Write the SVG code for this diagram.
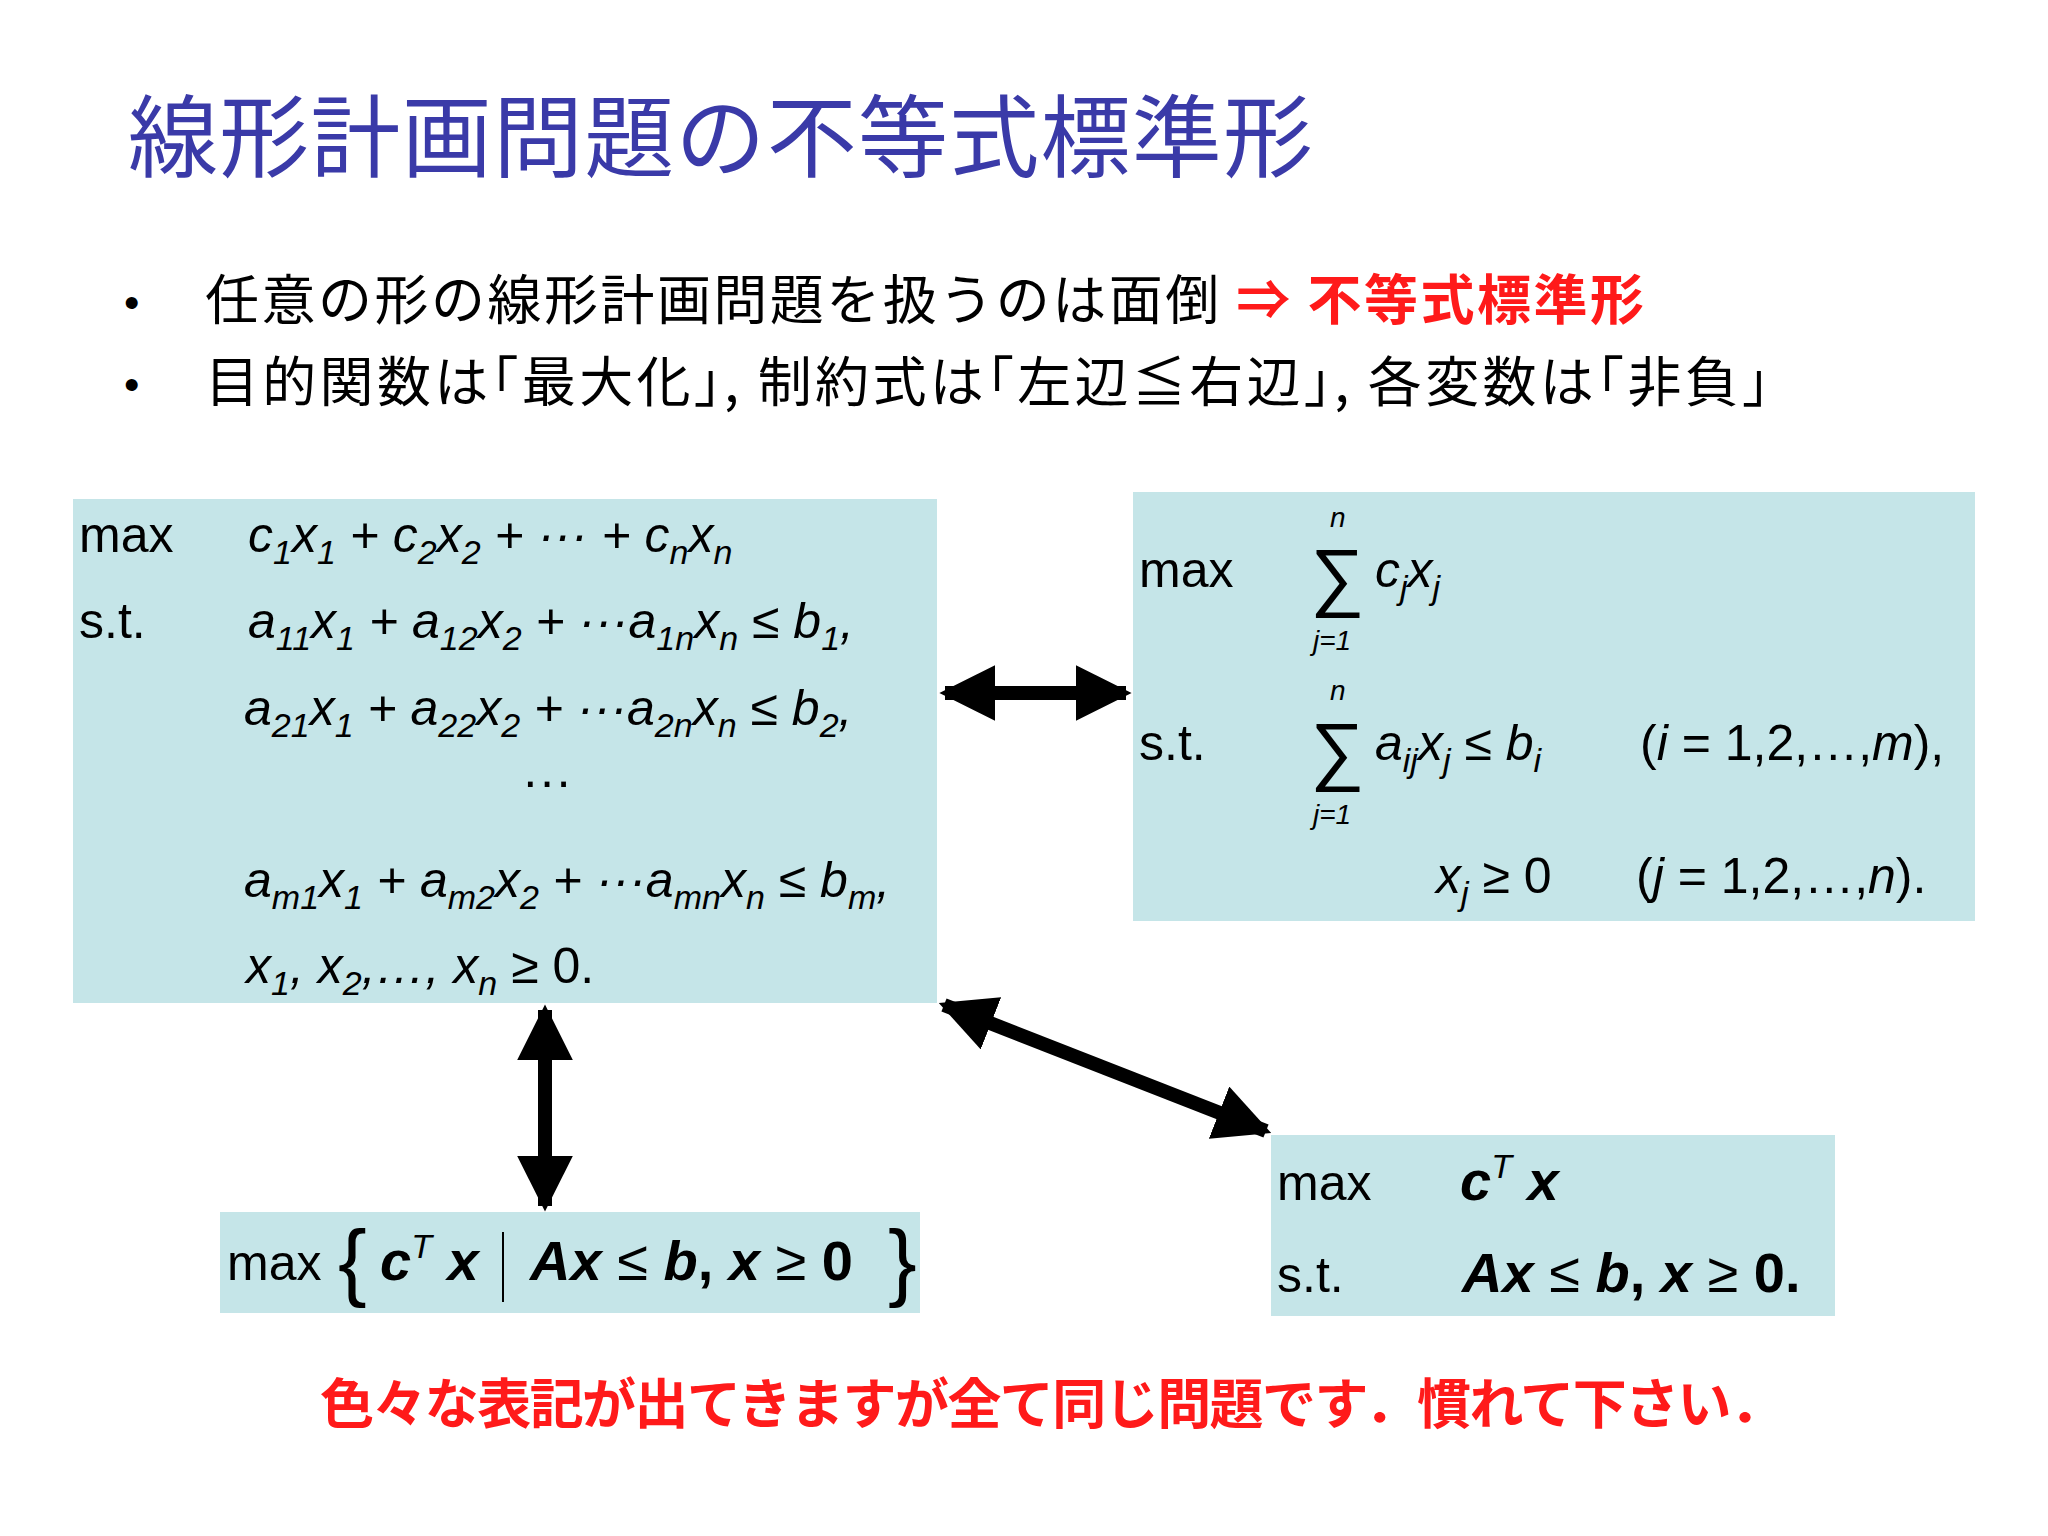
<svg xmlns="http://www.w3.org/2000/svg" width="2048" height="1536" viewBox="0 0 2048 1536">
<style>
text{font-family:"Liberation Sans","Noto Sans CJK JP",sans-serif;fill:#000}
.jp{font-family:"Noto Sans CJK JP",sans-serif}
.m{font-size:50px}
.i{font-style:italic}
.b{font-weight:bold}
.sub{font-size:34px;baseline-shift:-12px}
.sup{font-size:34px;baseline-shift:22px}
.box{fill:#c5e5e8}
.con{stroke:#000;stroke-width:14;fill:none}
</style>
<defs>
<marker id="ah" viewBox="0 0 10 10" refX="9" refY="5" markerWidth="4" markerHeight="4" orient="auto-start-reverse" markerUnits="strokeWidth">
<path d="M0,0 L10,5 L0,10 Z" fill="#000"/>
</marker>
</defs>
<rect width="2048" height="1536" fill="#fff"/>
<text class="jp" x="128" y="170" font-size="90" textLength="1185" style="fill:#3a3aa8">線形計画問題の不等式標準形</text>
<text x="124" y="318" font-size="44">•</text>
<text x="124" y="400" font-size="44">•</text>
<text class="jp" x="205" y="320" font-size="54" textLength="1439">任意の形の線形計画問題を扱うのは面倒 <tspan class="b" style="fill:#ff1a1a">⇒ 不等式標準形</tspan></text>
<text class="jp" x="205" y="402" font-size="54" textLength="1564">目的関数は｢最大化｣, 制約式は｢左辺≦右辺｣, 各変数は｢非負｣</text>

<g id="n1">
<rect class="box" x="73" y="499" width="864" height="504"/>
<text class="m" x="79" y="552">max</text>
<text class="m" x="79" y="638">s.t.</text>
<text class="m i" x="248" y="552">c<tspan class="sub">1</tspan>x<tspan class="sub">1</tspan> + c<tspan class="sub">2</tspan>x<tspan class="sub">2</tspan> + ··· + c<tspan class="sub">n</tspan>x<tspan class="sub">n</tspan></text>
<text class="m i" x="248" y="638">a<tspan class="sub">11</tspan>x<tspan class="sub">1</tspan> + a<tspan class="sub">12</tspan>x<tspan class="sub">2</tspan> + ···a<tspan class="sub">1n</tspan>x<tspan class="sub">n</tspan> ≤ b<tspan class="sub">1</tspan>,</text>
<text class="m i" x="244" y="725">a<tspan class="sub">21</tspan>x<tspan class="sub">1</tspan> + a<tspan class="sub">22</tspan>x<tspan class="sub">2</tspan> + ···a<tspan class="sub">2n</tspan>x<tspan class="sub">n</tspan> ≤ b<tspan class="sub">2</tspan>,</text>
<text class="m" x="522" y="798">···</text>
<text class="m i" x="244" y="897">a<tspan class="sub">m1</tspan>x<tspan class="sub">1</tspan> + a<tspan class="sub">m2</tspan>x<tspan class="sub">2</tspan> + ···a<tspan class="sub">mn</tspan>x<tspan class="sub">n</tspan> ≤ b<tspan class="sub">m</tspan>,</text>
<text class="m i" x="246" y="983">x<tspan class="sub">1</tspan>, x<tspan class="sub">2</tspan>,…, x<tspan class="sub">n</tspan> <tspan style="font-style:normal">≥ 0.</tspan></text>
</g>

<g id="n2">
<rect class="box" x="1133" y="492" width="842" height="429"/>
<text class="m" x="1139" y="587">max</text>
<text x="1310" y="602" font-size="76">∑</text>
<text class="i" x="1330" y="527" font-size="28">n</text>
<text class="i" x="1313" y="650" font-size="28">j=1</text>
<text class="m i" x="1375" y="587">c<tspan class="sub">j</tspan>x<tspan class="sub">j</tspan></text>
<text class="m" x="1139" y="760">s.t.</text>
<text x="1310" y="776" font-size="76">∑</text>
<text class="i" x="1330" y="700" font-size="28">n</text>
<text class="i" x="1313" y="824" font-size="28">j=1</text>
<text class="m i" x="1375" y="760">a<tspan class="sub">ij</tspan>x<tspan class="sub">j</tspan> ≤ b<tspan class="sub">i</tspan></text>
<text class="m" x="1640" y="760">(<tspan class="i">i</tspan> = 1,2,…,<tspan class="i">m</tspan>),</text>
<text class="m i" x="1436" y="893">x<tspan class="sub">j</tspan> <tspan style="font-style:normal">≥ 0</tspan></text>
<text class="m" x="1636" y="893">(<tspan class="i">j</tspan> = 1,2,…,<tspan class="i">n</tspan>).</text>
</g>

<g id="n3">
<rect class="box" x="220" y="1212" width="700" height="101"/>
<text class="m" x="227" y="1280" font-size="54">max</text>
<text x="338" y="1290" font-size="86" style="font-weight:100">{</text>
<text class="i b" x="380" y="1280" font-size="56">c<tspan class="sup" style="font-weight:normal">T</tspan> x</text>
<line x1="503" y1="1232" x2="503" y2="1302" stroke="#000" stroke-width="2"/>
<text class="i b" x="530" y="1280" font-size="56">Ax <tspan style="font-weight:normal;font-style:normal">≤</tspan> b<tspan style="font-style:normal">,</tspan> x <tspan style="font-weight:normal;font-style:normal">≥</tspan> <tspan style="font-style:normal">0</tspan></text>
<text x="888" y="1290" font-size="86" style="font-weight:100">}</text>
</g>

<g id="n4">
<rect class="box" x="1271" y="1135" width="564" height="181"/>
<text class="m" x="1277" y="1200" font-size="54">max</text>
<text class="i b" x="1460" y="1200" font-size="56">c<tspan class="sup" style="font-weight:normal">T</tspan> x</text>
<text class="m" x="1277" y="1292" font-size="54">s.t.</text>
<text class="i b" x="1462" y="1292" font-size="56">Ax <tspan style="font-weight:normal;font-style:normal">≤</tspan> b<tspan style="font-style:normal">,</tspan> x <tspan style="font-weight:normal;font-style:normal">≥</tspan> <tspan style="font-style:normal">0.</tspan></text>
</g>

<g id="connectors">
<line class="con" x1="945" y1="693" x2="1126" y2="693" marker-start="url(#ah)" marker-end="url(#ah)"/>
<line class="con" x1="545" y1="1010" x2="545" y2="1206" marker-start="url(#ah)" marker-end="url(#ah)"/>
<line class="con" x1="944" y1="1005" x2="1266" y2="1131" marker-start="url(#ah)" marker-end="url(#ah)"/>
</g>

<text class="jp b" x="320" y="1424" font-size="54" textLength="1464" style="fill:#ff1a1a">色々な表記が出てきますが全て同じ問題です．慣れて下さい．</text>
</svg>
